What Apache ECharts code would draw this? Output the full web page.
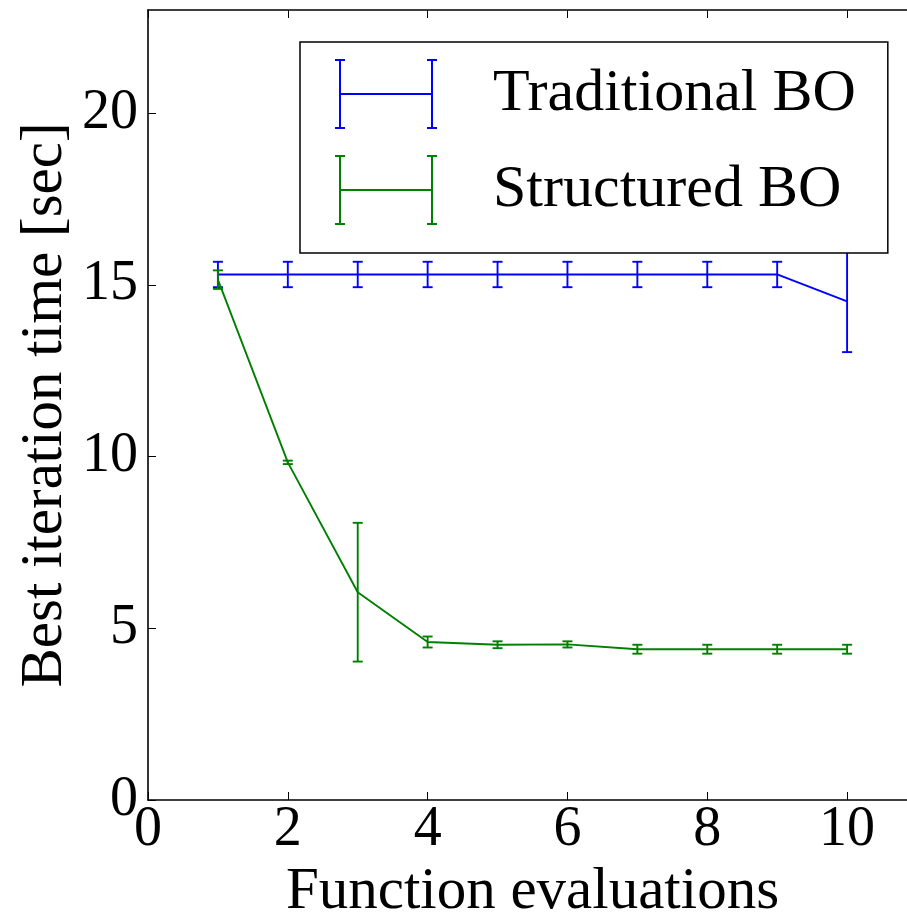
<!DOCTYPE html>
<html>
<head>
<meta charset="utf-8">
<script src="https://cdn.jsdelivr.net/npm/echarts@6/dist/echarts.min.js"></script>
<style>
html,body{margin:0;padding:0;background:#fff;}
#chart{width:907px;height:915px;}
</style>
</head>
<body>
<div id="chart"></div>
<script>
// ---- data ----
var xValues = [1, 2, 3, 4, 5, 6, 7, 8, 9, 10];
var traditionalMean = [15.3, 15.3, 15.3, 15.3, 15.3, 15.3, 15.3, 15.3, 15.3, 14.52];
var traditionalErr  = [0.37, 0.37, 0.37, 0.37, 0.37, 0.37, 0.37, 0.37, 0.37, 1.48];
var structuredMean  = [15.15, 9.83, 6.05, 4.6, 4.52, 4.53, 4.39, 4.39, 4.39, 4.39];
var structuredErr   = [0.27, 0.05, 2.02, 0.16, 0.1, 0.09, 0.13, 0.13, 0.13, 0.13];
var seriesNames = ['Traditional BO', 'Structured BO'];
var xTicks = [0, 2, 4, 6, 8, 10];
var yTicks = [0, 5, 10, 15, 20];

var FONT = 'Liberation Serif';
var BLUE = '#0000ff', GREEN = '#008000';

function pairs(means) { return xValues.map(function (x, i) { return [x, means[i]]; }); }
function triples(means, errs) { return xValues.map(function (x, i) { return [x, means[i], errs[i]]; }); }

function errRender(color) {
  return function (params, api) {
    var x = api.value(0), y = api.value(1), e = api.value(2);
    var hi = api.coord([x, y + e]), lo = api.coord([x, y - e]);
    var cw = 5;
    var st = { stroke: color, lineWidth: 1.9, fill: null };
    return {
      type: 'group',
      children: [
        { type: 'line', shape: { x1: hi[0], y1: hi[1], x2: lo[0], y2: lo[1] }, style: st },
        { type: 'line', shape: { x1: hi[0] - cw, y1: hi[1], x2: hi[0] + cw, y2: hi[1] }, style: st },
        { type: 'line', shape: { x1: lo[0] - cw, y1: lo[1], x2: lo[0] + cw, y2: lo[1] }, style: st }
      ]
    };
  };
}

var iconPath = 'path://M4,0h2v70h-2z M0,0h10v2h-10z M0,68h10v2h-10z M5,34h92v2h-92z M96,0h2v70h-2z M92,0h10v2h-10z M92,68h10v2h-10z';

var chart = echarts.init(document.getElementById('chart'), null, { renderer: 'canvas' });

function axisBase(ticks) {
  return {
    axisLine: { show: true, onZero: false, lineStyle: { color: '#000', width: 1.6 } },
    axisTick: { show: true, inside: true, length: 8, customValues: ticks, lineStyle: { color: '#000', width: 1 } },
    splitLine: { show: false }
  };
}

var option = {
  backgroundColor: '#fff',
  animation: false,
  textStyle: { fontFamily: FONT },
  grid: { left: 148, top: 10, right: -10, bottom: 115, containLabel: false, outerBoundsMode: 'none' },
  legend: {
    orient: 'vertical',
    left: 300,
    top: 42,
    padding: [17, 32, 28, 35],
    itemGap: 26,
    itemWidth: 102,
    itemHeight: 70,
    borderColor: '#000',
    borderWidth: 1.5,
    backgroundColor: '#fff',
    selectedMode: false,
    data: [
      { name: seriesNames[0], icon: iconPath, itemStyle: { color: BLUE } },
      { name: seriesNames[1], icon: iconPath, itemStyle: { color: GREEN } }
    ],
    textStyle: { fontFamily: FONT, fontSize: 60, color: '#000', padding: [0, 0, 0, 51], lineHeight: 70 }
  },
  xAxis: [
    Object.assign(axisBase(xTicks), {
      type: 'value', min: 0, max: 11, interval: 2, position: 'bottom',
      name: 'Function evaluations', nameLocation: 'middle', nameGap: 63, nameMoveOverlap: false,
      nameTextStyle: { fontFamily: FONT, fontSize: 59, color: '#000' },
      axisLabel: { fontFamily: FONT, fontSize: 56, color: '#000', margin: 2, customValues: xTicks }
    }),
    Object.assign(axisBase(xTicks), {
      type: 'value', min: 0, max: 11, interval: 2, position: 'top',
      axisLabel: { show: false }
    })
  ],
  yAxis: [
    Object.assign(axisBase(yTicks), {
      type: 'value', min: 0, max: 23, interval: 5, position: 'left',
      name: 'Best iteration time [sec]', nameLocation: 'middle', nameGap: 73, nameMoveOverlap: false,
      nameTextStyle: { fontFamily: FONT, fontSize: 59, color: '#000' },
      axisLabel: { fontFamily: FONT, fontSize: 56, color: '#000', margin: 10, customValues: yTicks }
    }),
    Object.assign(axisBase(yTicks), {
      type: 'value', min: 0, max: 23, interval: 5, position: 'right',
      axisLabel: { show: false }
    })
  ],
  series: [
    {
      name: seriesNames[0], type: 'line', data: pairs(traditionalMean),
      showSymbol: false, symbol: 'none', color: BLUE,
      lineStyle: { color: BLUE, width: 1.9 }, z: 2
    },
    {
      name: seriesNames[0], type: 'custom', data: triples(traditionalMean, traditionalErr),
      renderItem: errRender(BLUE), color: BLUE, z: 2
    },
    {
      name: seriesNames[1], type: 'line', data: pairs(structuredMean),
      showSymbol: false, symbol: 'none', color: GREEN,
      lineStyle: { color: GREEN, width: 1.9 }, z: 3
    },
    {
      name: seriesNames[1], type: 'custom', data: triples(structuredMean, structuredErr),
      renderItem: errRender(GREEN), color: GREEN, z: 3
    }
  ]
};
chart.setOption(option);
</script>
</body>
</html>
